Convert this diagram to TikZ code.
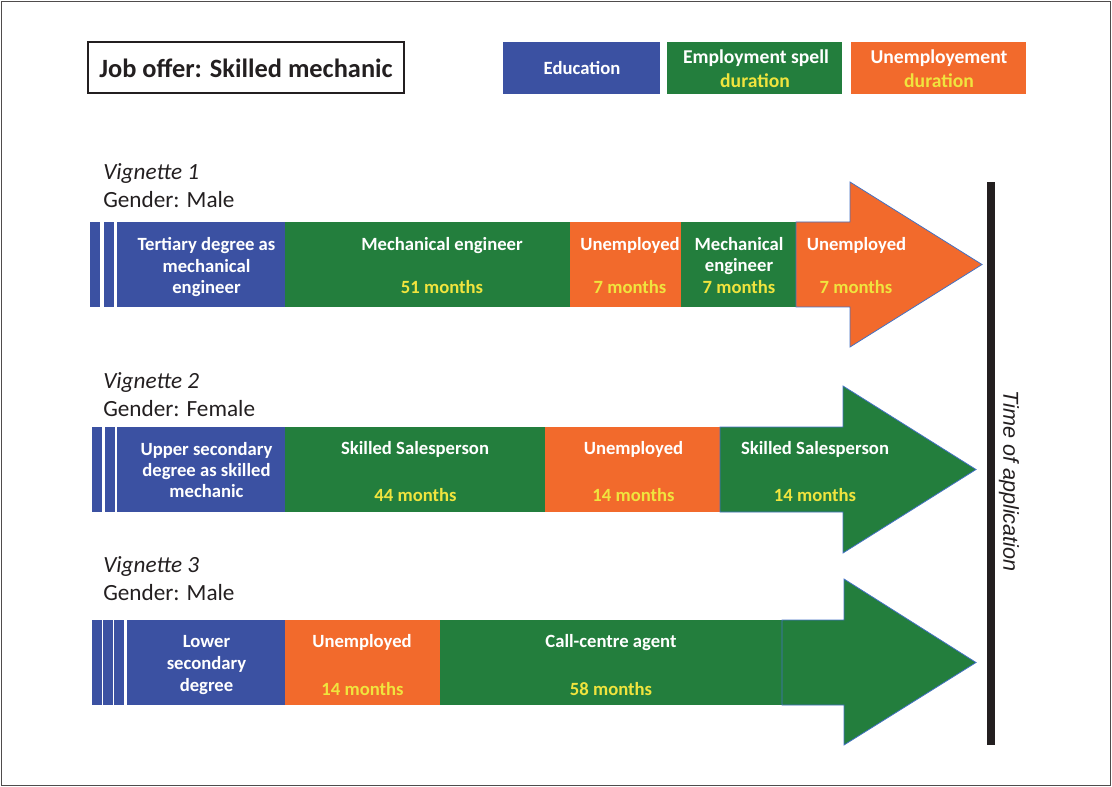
\documentclass[tikz,border=0pt]{standalone}
\usepackage{fontspec}
\setmainfont{Carlito}
\newfontfamily\arialf{Liberation Sans}
\definecolor{blueE}{RGB}{59,81,162}
\definecolor{greenE}{RGB}{35,126,61}
\definecolor{orangeE}{RGB}{242,106,44}
\definecolor{yellowT}{RGB}{240,228,62}
\definecolor{outlineB}{RGB}{68,114,196}
\definecolor{darkT}{RGB}{35,31,32}
\begin{document}
\begin{tikzpicture}[x=0.75pt,y=-0.75pt,
  lbl/.style={text=white, font=\bfseries\fontsize{14}{16}\selectfont, anchor=base, inner sep=0pt},
  dur/.style={lbl, text=yellowT},
  vig/.style={text=darkT, font=\itshape\fontsize{17.4}{20}\selectfont, anchor=base west, inner sep=0pt},
  gen/.style={text=darkT, font=\fontsize{17.4}{20}\selectfont, anchor=base west, inner sep=0pt},
  legtxt/.style={text=white, font=\bfseries\fontsize{14.7}{17}\selectfont, anchor=base, inner sep=0pt},
  arrowshape/.style={draw=outlineB, line width=0.6pt, line join=miter}]
\useasboundingbox (0,0) rectangle (1112,787);
\draw[line width=0.9pt, darkT!80] (1.5,1.5) rectangle (1110.5,785.5);

% header
\draw[line width=0.9pt, darkT] (88,42) rectangle (404,93);
\node[text=darkT, font=\bfseries\fontsize{19.8}{23}\selectfont, anchor=base, inner sep=0pt] (title) at (246,78) {Job offer: Skilled mechanic};

% legend
\fill[blueE] (503,42) rectangle (660,94);
\fill[greenE] (667,42) rectangle (842,94);
\fill[orangeE] (851,42) rectangle (1026,94);
\node[legtxt, font=\bfseries\fontsize{14}{17}\selectfont] (legE) at (582,75) {Education};
\node[legtxt] (legW1) at (756,64) {Employment spell};
\node[legtxt, text=yellowT] (legW2) at (755,88) {duration};
\node[legtxt] (legU1) at (939,64) {Unemployement};
\node[legtxt, text=yellowT] (legU2) at (939,88) {duration};

% time bar
\fill[darkT] (987,182) rectangle (995,745);
\node[text=darkT, font=\arialf\itshape\fontsize{16.2}{19}\selectfont, rotate=-90, inner sep=0pt] (toa) at (1009,481) {Time of application};

% ---------- Vignette 1
\node[vig] (v1) at (103,180) {Vignette 1};
\node[gen] (g1) at (103,208) {Gender: Male};
\fill[blueE] (90,222) rectangle (100,307);
\fill[blueE] (104,222) rectangle (114,307);
\fill[blueE] (117,222) rectangle (285,307);
\fill[greenE] (285,222) rectangle (570,307);
\fill[orangeE] (570,222) rectangle (681,307);
\fill[greenE] (681,222) rectangle (796,307);
\draw[arrowshape, fill=orangeE] (796,222) -- (850,222) -- (850,182) -- (982,264.5) -- (850,347) -- (850,307) -- (796,307) -- cycle;
\node[lbl] (a1) at (206.5,251) {Tertiary degree as};
\node[lbl] (a2) at (206.5,273) {mechanical};
\node[lbl] (a3) at (206.5,294) {engineer};
\node[lbl] (b1) at (442,251) {Mechanical engineer};
\node[dur] (b2) at (442,294) {51 months};
\node[lbl] (c1) at (630,251) {Unemployed};
\node[dur] (c2) at (630,294) {7 months};
\node[lbl] (d1) at (739,251) {Mechanical};
\node[lbl] (d2) at (739,272) {engineer};
\node[dur] (d3) at (739,294) {7 months};
\node[lbl] (e1) at (856.5,251) {Unemployed};
\node[dur] (e2) at (856,294) {7 months};

% ---------- Vignette 2
\node[vig] (v2) at (103,388) {Vignette 2};
\node[gen] (g2) at (103,416) {Gender: Female};
\fill[blueE] (92,427) rectangle (102,512);
\fill[blueE] (105,427) rectangle (115,512);
\fill[blueE] (117,427) rectangle (285,512);
\fill[greenE] (285,427) rectangle (545,512);
\fill[orangeE] (545,427) rectangle (720,512);
\draw[arrowshape, fill=greenE] (720,427) -- (843,427) -- (843,386) -- (976,469.5) -- (843,553) -- (843,512) -- (720,512) -- cycle;
\node[lbl] (f1) at (206.5,455) {Upper secondary};
\node[lbl] (f2) at (206.5,476) {degree as skilled};
\node[lbl] (f3) at (206.5,497) {mechanic};
\node[lbl] (h1) at (415,454) {Skilled Salesperson};
\node[dur] (h2) at (415.5,501) {44 months};
\node[lbl] (i1) at (633.5,454) {Unemployed};
\node[dur] (i2) at (633.5,501) {14 months};
\node[lbl] (j1) at (815,454) {Skilled Salesperson};
\node[dur] (j2) at (815,501) {14 months};

% ---------- Vignette 3
\node[vig] (v3) at (103,572) {Vignette 3};
\node[gen] (g3) at (103,600) {Gender: Male};
\fill[blueE] (92,620) rectangle (102,705);
\fill[blueE] (103,620) rectangle (113,705);
\fill[blueE] (114,620) rectangle (124,705);
\fill[blueE] (127,620) rectangle (285,705);
\fill[orangeE] (285,620) rectangle (440,705);
\fill[greenE] (440,620) rectangle (782,705);
\draw[arrowshape, fill=greenE] (782,620) -- (844,620) -- (844,579) -- (976,662.5) -- (844,745) -- (844,705) -- (782,705) -- cycle;
\node[lbl] (k1) at (206.5,647) {Lower};
\node[lbl] (k2) at (206.5,669) {secondary};
\node[lbl] (k3) at (206.5,691) {degree};
\node[lbl] (m1) at (362,647) {Unemployed};
\node[dur] (m2) at (362.5,695) {14 months};
\node[lbl] (n1) at (611,647) {Call-centre agent};
\node[dur] (n2) at (611,695) {58 months};
\end{tikzpicture}
\end{document}
